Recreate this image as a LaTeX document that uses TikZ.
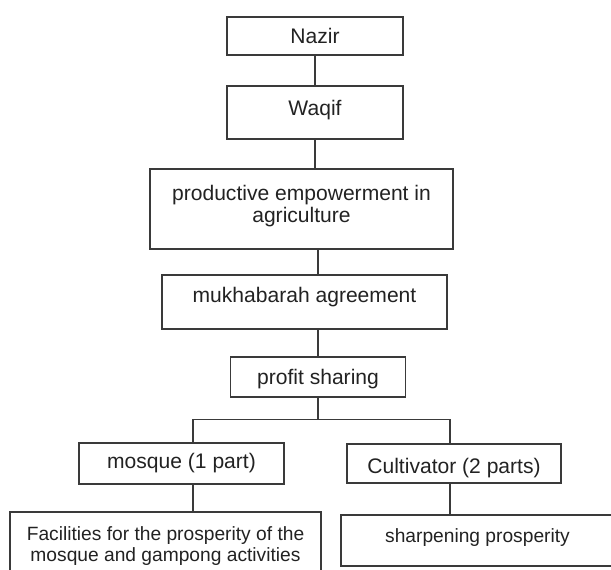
\documentclass[tikz,border=0pt]{standalone}
\usepackage{fontspec}
\setmainfont{Liberation Sans}
\definecolor{ink}{HTML}{222222}
\definecolor{rule}{HTML}{3A3A3A}

\begin{document}
\begin{tikzpicture}[x=0.75pt,y=-0.75pt,
  box/.style={draw=rule,line width=0.9pt,rectangle,inner sep=0pt,align=center,
    font=\fontsize{15.8}{16.7}\selectfont,text=ink},
  small/.style={font=\fontsize{14.4}{16}\selectfont},
  link/.style={draw=rule,line width=0.9pt}]
\useasboundingbox (0,0) rectangle (611,570);
\clip (0,0) rectangle (611,570);
% one-line boxes: name / centre x / centre y / width / height / text height / text depth / text
\foreach \n/\x/\y/\w/\h/\th/\td/\t in {
 nazir/315/36/176/38/14.4/3.5/{Nazir},
 waqif/315/112.5/176/53/11.4/7/{Waqif},
 mukh/304.5/302/285/54/11.4/11/{mukhabarah agreement},
 profit/318/377/175/40/14.4/3.5/{profit sharing},
 mosque/181.5/463.5/205/41/11.4/3.5/{mosque (1 part)},
 cult/454/463.5/214/39/18/3.5/{Cultivator (2 parts)}}{
  \node[box,minimum width={\w*0.75pt},minimum height={\h*0.75pt},
    text height=\th pt,text depth=\td pt] (\n) at (\x,\y) {\t};
}
% two-line boxes and the smaller bottom row
\node[box,minimum width=227.25pt,minimum height=60pt,text depth=8pt] (product) at (301.5,209)
  {productive empowerment in\\agriculture};
\node[box,small,minimum width=233.25pt,minimum height=51pt] (facil) at (165.5,546)
  {Facilities for the prosperity of the\\mosque and gampong activities};
\node[box,small,minimum width=204.75pt,minimum height=38.25pt,
  text height=11.4pt,text depth=8.5pt] (sharp) at (477.5,540.5) {sharpening prosperity};
\coordinate (lfork) at (193,419.5);
\coordinate (rfork) at (450,419.5);
\draw[link] (nazir) -- (waqif);
\draw[link] (waqif.south) -- (waqif.south |- product.north);
\draw[link] (profit.north |- product.south) -- (profit.north |- mukh.north);
\draw[link] (profit.north |- mukh.south) -- (profit.north);
\draw[link] (profit.south) -- (profit.south |- lfork);
\draw[link] (lfork) -- (rfork);
\draw[link] (lfork) -- (lfork |- mosque.north);
\draw[link] (rfork) -- (rfork |- cult.north);
\draw[link] (lfork |- mosque.south) -- (lfork |- facil.north);
\draw[link] (rfork |- cult.south) -- (rfork |- sharp.north);
\end{tikzpicture}
\end{document}
